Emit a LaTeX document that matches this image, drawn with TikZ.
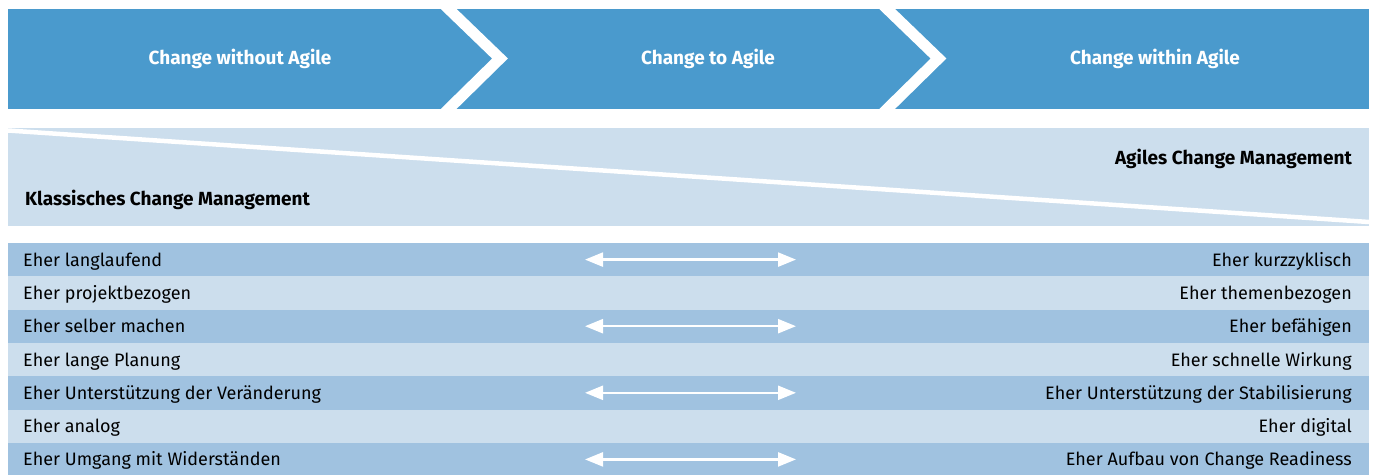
\documentclass[tikz,border=0pt]{standalone}
\usepackage{fontspec}
\setmainfont{Fira Sans}
\usetikzlibrary{arrows.meta}
\definecolor{bandblue}{RGB}{74,154,205}
\definecolor{rowdark}{RGB}{160,194,224}
\definecolor{rowlight}{RGB}{204,222,237}
\tikzset{
  phase/.style={text=white, font=\fontsize{19}{22}\selectfont\bfseries, anchor=center},
  heading/.style={text=black, font=\fontsize{19}{22}\selectfont\bfseries},
  itemtext/.style={text=black, font=\fontsize{18}{21}\selectfont, inner sep=0pt},
  chevron/.style={draw=white, line width=11pt, miter limit=10},
  bothways/.style={draw=white, line width=2.4pt,
    {Triangle[length=18pt,width=14pt]}-{Triangle[length=18pt,width=14pt]}}
}
\begin{document}
\begin{tikzpicture}[x=1pt,y=-1pt]
\useasboundingbox (0,0) rectangle (1375,474);
\begin{scope}
\clip (0,0) rectangle (1375,474);

% phase band with two chevron separators
\fill[bandblue] (8,9) rectangle (1369,109);
\draw[chevron] (443.5,4) -- (500,58.5) -- (443.5,114);
\draw[chevron] (882,4) -- (938.5,58.5) -- (882,114);
\node[phase] (p1) at (240,59) {Change without Agile};
\node[phase] (p2) at (708,59) {Change to Agile};
\node[phase] (p3) at (1155,59) {Change within Agile};

% classic vs. agile band, split by a diagonal
\fill[rowlight] (8,128) rectangle (1369,226);
\draw[white, line width=4.5pt] (8,130.5) -- (1369,222);
\node[heading, anchor=base west, inner sep=0pt] (klass) at (25,205.5) {Klassisches Change Management};
\node[heading, anchor=base east, inner sep=0pt] (agil) at (1352,164.5) {Agiles Change Management};

% comparison rows
\foreach \i/\col in {0/rowdark,1/rowlight,2/rowdark,3/rowlight,4/rowdark,5/rowlight,6/rowdark}{
  \fill[\col] (8,{243+33.3*\i}) rectangle (1369,{243+33.3*(\i+1)});
}
\foreach \i/\l/\r in {
  0/Eher langlaufend/Eher kurzzyklisch,
  1/Eher projektbezogen/Eher themenbezogen,
  2/Eher selber machen/Eher befähigen,
  3/Eher lange Planung/Eher schnelle Wirkung,
  4/Eher Unterstützung der Veränderung/Eher Unterstützung der Stabilisierung,
  5/Eher analog/Eher digital,
  6/Eher Umgang mit Widerständen/Eher Aufbau von Change Readiness}{
  \node[itemtext, anchor=base west] (l\i) at (23,{259.6+33.3*\i+6.5}) {\l};
  \node[itemtext, anchor=base east] (r\i) at (1352,{259.6+33.3*\i+6.5}) {\r};
}
\foreach \i in {0,2,4,6}{
  \coordinate (aL\i) at (585,{259.6+33.3*\i});
  \coordinate (aR\i) at (796,{259.6+33.3*\i});
  \draw[bothways] (aL\i) -- (aR\i);
}
\end{scope}
\end{tikzpicture}
\end{document}
